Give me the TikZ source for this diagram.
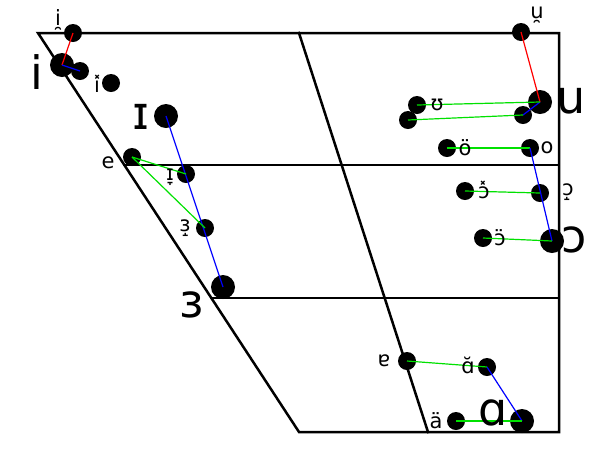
\documentclass[tikz,border=0pt]{standalone}
\usepackage{fontspec}
\setmainfont{DejaVu Sans}
\definecolor{vgreen}{RGB}{0,225,0}
\begin{document}
\begin{tikzpicture}[x=1pt,y=-1pt,
  frame/.style={line width=2.5pt, line join=miter, line cap=rect},
  bigdot/.style={circle,fill=black,inner sep=0pt,minimum size=24pt},
  smalldot/.style={circle,fill=black,inner sep=0pt,minimum size=18pt},
  biglab/.style={font=\fontsize{46}{46}\selectfont, inner sep=0pt},
  smalllab/.style={font=\fontsize{21}{21}\selectfont, inner sep=0pt},
  gline/.style={line width=1.2pt, draw=vgreen},
  bline/.style={line width=1.2pt, draw=blue},
  rline/.style={line width=1.2pt, draw=red}]
\useasboundingbox (0,0) rectangle (600,467);
% chart frame
\coordinate (TL) at (38,33);
\coordinate (TM) at (299,33);
\coordinate (TR) at (559,33);
\coordinate (BR) at (559,432);
\coordinate (BL) at (299,432);
\coordinate (BM) at (428,432);
\coordinate (L1) at (124,165);
\coordinate (R1) at (559,165);
\coordinate (L2) at (211,298);
\coordinate (R2) at (559,298);
\draw[frame] (TL) -- (TR) -- (BR) -- (BL) -- cycle;
\draw[frame] (TM) -- (BM);
\draw[frame] (L1) -- (R1);
\draw[frame] (L2) -- (R2);
% dots
\node[smalldot] (iNS) at (73,33) {};
\node[bigdot] (iB) at (62,65) {};
\node[smalldot] (iX) at (80,71) {};
\node[smalldot] (iC) at (111,83) {};
\node[bigdot] (IB) at (166,116) {};
\node[smalldot] (eD) at (132,157) {};
\node[smalldot] (ILow) at (186,174) {};
\node[smalldot] (EUp) at (205,228) {};
\node[bigdot] (EB) at (223,287) {};
\node[smalldot] (uNS) at (521,32) {};
\node[bigdot] (uB) at (540,102) {};
\node[smalldot] (uX) at (523,115) {};
\node[smalldot] (UD) at (417,105) {};
\node[smalldot] (UX) at (408,120) {};
\node[smalldot] (oD) at (530,148) {};
\node[smalldot] (oC) at (447,148) {};
\node[smalldot] (OUp) at (540,193) {};
\node[smalldot] (OX) at (465,191) {};
\node[bigdot] (OB) at (552,241) {};
\node[smalldot] (OC) at (483,238) {};
\node[smalldot] (aT) at (407,361) {};
\node[smalldot] (aS) at (487,367) {};
\node[bigdot] (aB) at (522,421) {};
\node[smalldot] (aC) at (456,421) {};
% connectors
\draw[rline] (iNS.center) -- (iB.center);
\draw[bline] (iB.center) -- (iX.center);
\draw[bline] (IB.center) -- (EB.center);
\draw[gline] (eD.center) -- (ILow.center);
\draw[gline] (eD.center) -- (EUp.center);
\draw[rline] (uNS.center) -- (uB.center);
\draw[bline] (uB.center) -- (uX.center);
\draw[gline] (UD.center) -- (uB.center);
\draw[gline] (UX.center) -- (uX.center);
\draw[gline] (oC.center) -- (oD.center);
\draw[bline] (oD.center) -- (OB.center);
\draw[gline] (OX.center) -- (OUp.center);
\draw[gline] (OC.center) -- (OB.center);
\draw[gline] (aT.center) -- (aS.center);
\draw[bline] (aS.center) -- (aB.center);
\draw[gline] (aC.center) -- (aB.center);
% labels
\node[smalllab] (liNS) at (58,20) {i̯};
\node[biglab] (liB) at (37,72) {i};
\node[smalllab] (liX) at (97,84) {i̽};
\node[biglab] (lIB) at (141,117) {ɪ};
\node[smalllab] (le) at (108,163) {e};
\node[smalllab] (lILow) at (170,177) {ɪ̞};
\node[smalllab] (lEUp) at (185,228) {ɜ̝};
\node[biglab] (lEB) at (192,305) {ɜ};
\node[smalllab] (luNS) at (537,15) {u̯};
\node[smalllab] (lUD) at (437,105) {ʊ};
\node[biglab] (luB) at (571,101) {u};
\node[smalllab] (loC) at (465,148) {ö};
\node[smalllab] (loD) at (547,148) {o};
\node[smalllab] (lOX) at (484,190) {ɔ̽};
\node[smalllab] (lOUp) at (568,192) {ɔ̝};
\node[smalllab] (lOC) at (500,238) {ɔ̈};
\node[biglab] (lOB) at (574,240) {ɔ};
\node[smalllab] (laT) at (384,361) {ɐ};
\node[smalllab] (laS) at (468,365) {ɑ̆};
\node[smalllab] (laC) at (436,421) {ä};
\node[biglab] (laB) at (493,413) {ɑ};
\end{tikzpicture}
\end{document}
